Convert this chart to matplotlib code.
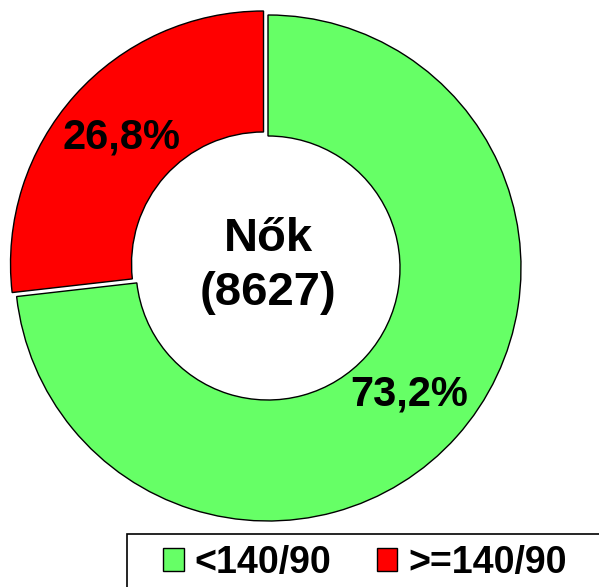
import matplotlib.pyplot as plt
from matplotlib.patches import Patch, Rectangle

# data
labels = ['<140/90', '>=140/90']
shares = [73.2, 26.8]
colors = ['#66ff66', '#ff0000']
center_title = 'Nők\n(8627)'

plt.rcParams['font.family'] = ['Liberation Sans', 'DejaVu Sans']
plt.rcParams['font.weight'] = 'bold'

fig = plt.figure(figsize=(5.99, 5.87), dpi=100)
ax = fig.add_axes([0, 0, 1, 1])

wedges, texts, autotexts = ax.pie(
    shares, colors=colors, startangle=90, counterclock=False,
    center=(268, 319), radius=253, explode=[0, 6],
    wedgeprops=dict(width=121, edgecolor='black', linewidth=1),
    autopct=lambda p: f'{p:.1f}%'.replace('.', ','), pctdistance=0.75,
    textprops=dict(fontsize=30, fontweight='bold', color='black'),
    frame=True)
ax.set_xlim(0, 599)
ax.set_ylim(0, 587)
ax.set_aspect('equal')
ax.axis('off')

ax.text(268, 321, center_title, ha='center', va='center',
        fontsize=34, fontweight='bold', linespacing=1.3)

# legend box runs off the bottom/right edge like in the original
fig.patches.append(Rectangle((127 / 599, -0.1), 1.0, (587 - 534) / 587 + 0.1,
                             transform=fig.transFigure, fill=False,
                             edgecolor='black', linewidth=1.2))

handles = [Patch(facecolor=c, edgecolor='black', linewidth=1) for c in colors]
leg = fig.legend(handles, labels, loc='center left',
                 bbox_to_anchor=(163 / 599, 1 - 563 / 587), ncol=2,
                 fontsize=27, frameon=False, borderpad=0,
                 handlelength=0.55, handleheight=0.55, handletextpad=0.3,
                 columnspacing=1.2, borderaxespad=0)
for t in leg.get_texts():
    t.set_fontweight('bold')

fig.savefig('out.png', dpi=100)
